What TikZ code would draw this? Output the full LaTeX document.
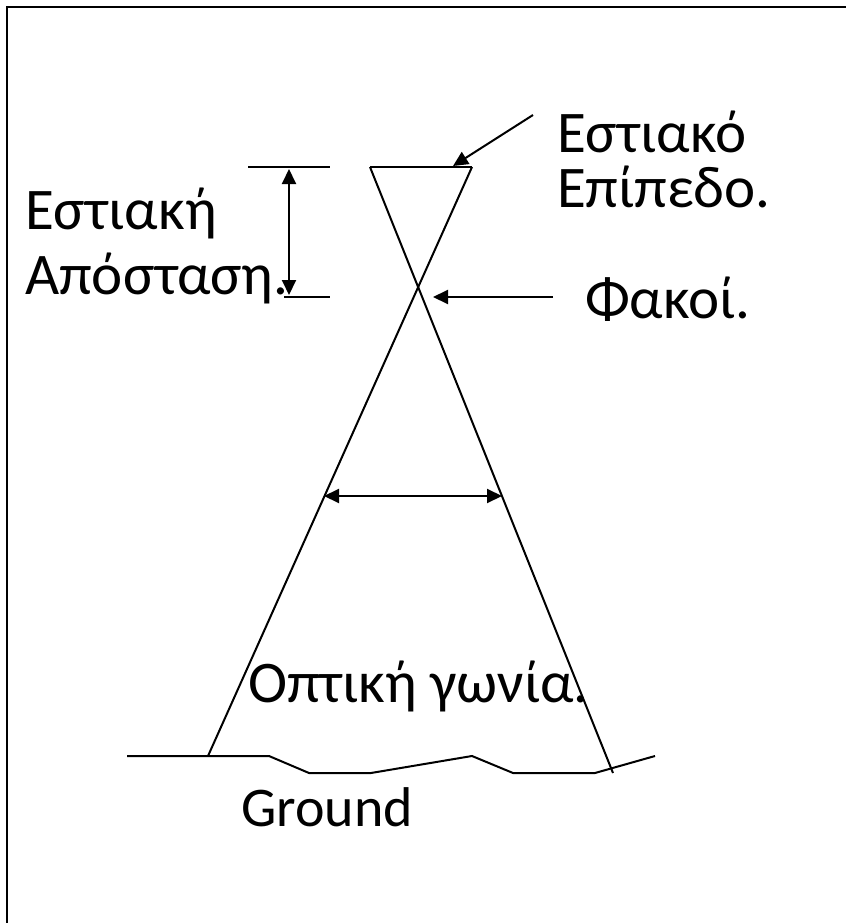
\documentclass[tikz,border=0pt]{standalone}
\usepackage{fontspec}
\setmainfont{Carlito}
\usetikzlibrary{arrows.meta}
\tikzset{
  x=1pt, y=-1pt,
  ln/.style={line width=2pt, line join=miter},
  tip/.tip={Triangle[length=15pt,width=14pt]},
  arr/.style={ln, -tip},
  darr/.style={ln, tip-tip},
  lbl/.style={anchor=base west, inner sep=0pt, font=\fontsize{59}{70}\selectfont},
}
\begin{document}
\begin{tikzpicture}
\useasboundingbox (0,0) rectangle (846,923);
\fill[white] (0,0) rectangle (846,923);
% frame (only left and top visible)
\coordinate (F1) at (7,923);
\coordinate (F2) at (7,7);
\coordinate (F3) at (846,7);
\draw[line width=2.6pt] (F1) -- (F2) -- (F3);

% cone
\coordinate (TL) at (370,167);
\coordinate (TR) at (472,167);
\coordinate (BL) at (208,756);
\coordinate (BR) at (613,773);
\draw[ln] (TL) -- (TR);
\draw[ln] (TL) -- (BR);
\draw[ln] (TR) -- (BL);

% focal distance ticks
\coordinate (H1a) at (248,167);
\coordinate (H1b) at (330,167);
\coordinate (H2a) at (284,297);
\coordinate (H2b) at (330,297);
\draw[ln] (H1a) -- (H1b);
\draw[ln] (H2a) -- (H2b);
\coordinate (V1) at (289,169);
\coordinate (V2) at (289,295);
\draw[darr] (V1) -- (V2);

% angle arrow
\coordinate (A1) at (324,496);
\coordinate (A2) at (502,496);
\draw[darr] (A1) -- (A2);

% pointer arrows
\coordinate (P1) at (533,115);
\coordinate (P2) at (453,166);
\draw[arr] (P1) -- (P2);
\coordinate (Q1) at (553,297);
\coordinate (Q2) at (433,297);
\draw[arr] (Q1) -- (Q2);

% ground
\coordinate (G1) at (127,756);
\coordinate (G2) at (269,756);
\coordinate (G3) at (309,773);
\coordinate (G4) at (371,773);
\coordinate (G5) at (472,756);
\coordinate (G6) at (513,773);
\coordinate (G7) at (595,773);
\coordinate (G8) at (655,756);
\draw[ln] (G1) -- (G2) -- (G3) -- (G4) -- (G5) -- (G6) -- (G7) -- (G8);

% labels
\node[lbl] (t1) at (557,152) {Εστιακό};
\node[lbl] (t2) at (557,207) {Επίπεδο.};
\node[lbl] (t3) at (25,229) {Εστιακή};
\node[lbl] (t4) at (25,294) {Απόσταση.};
\node[lbl] (t5) at (585,318) {Φακοί.};
\node[lbl] (t6) at (248,702) {Οπτική γωνία.};
\node[lbl, font=\fontsize{56}{66}\selectfont] (t7) at (241,826) {Ground};
\end{tikzpicture}
\end{document}
